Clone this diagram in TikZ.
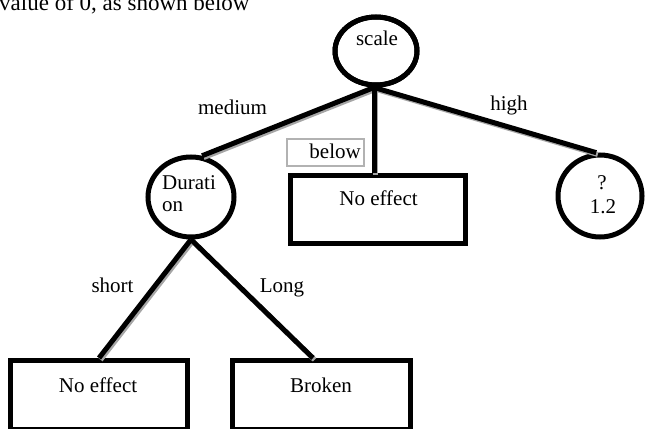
\documentclass[tikz,border=0pt]{standalone}
\usepackage{fontspec}
\setmainfont{Liberation Serif}
\usetikzlibrary{shapes.geometric,calc}

\tikzset{
  txt/.style={font=\fontsize{21}{25}\selectfont, inner sep=0pt, anchor=base},
  oval/.style={ellipse, draw=black, line width=5pt, inner sep=0pt},
  leaf/.style={rectangle, draw=black, line width=5pt, inner sep=0pt},
  edge/.style={line width=5pt, black},
  shade/.style={line width=5pt, gray!70, transform canvas={shift={(1.6pt,-1.8pt)}}},
  tag/.style={rectangle, draw=gray!60, line width=1.2pt, inner sep=0pt}
}

\begin{document}
\begin{tikzpicture}[x=1pt, y=1pt]
  \useasboundingbox (0,0) rectangle (647,428);
  \clip (0,0) rectangle (647,428);

  % running text above the tree
  \node[txt, anchor=base west, font=\fontsize{23}{27}\selectfont] (intro) at (-1,417.5) {value of 0, as shown below};

  % decision nodes
  \node[oval, minimum width=82pt, minimum height=68pt] (scale) at (376,377) {};
  \node[oval, minimum width=86pt, minimum height=80pt] (dur) at (191,231) {};
  \node[oval, minimum width=84pt, minimum height=82pt] (q) at (600,232) {};

  % outcome boxes
  \node[leaf, minimum width=175pt, minimum height=68pt] (mid) at (378,218.5) {};
  \node[leaf, minimum width=177pt, minimum height=69pt] (left) at (99,33) {};
  \node[leaf, minimum width=178pt, minimum height=69pt] (broken) at (321.5,33) {};

  % small caption box beside the middle branch
  \node[tag, minimum width=77pt, minimum height=27pt] (belowbox) at (325.5,275.5) {};

  % connector end points
  \coordinate (sTop) at ($(scale.south)+(-2,0)$);
  \coordinate (bTop) at ($(broken.north)+(-8.5,0)$);

  % shadows under the connectors
  \draw[shade] (sTop) -- (dur.75);
  \draw[shade] (sTop) -- (sTop |- mid.north);
  \draw[shade] (sTop) -- (q.95);
  \draw[shade] (dur.south) -- (left.north);
  \draw[shade] (dur.south) -- (bTop);

  % connectors
  \draw[edge] (sTop) -- (dur.75);
  \draw[edge] (sTop) -- (sTop |- mid.north);
  \draw[edge] (sTop) -- (q.95);
  \draw[edge] (dur.south) -- (left.north);
  \draw[edge] (dur.south) -- (bTop);

  % redraw shapes over the line ends
  \node[oval, minimum width=82pt, minimum height=68pt] at (scale) {};

  % texts
  \node[txt] (tScale) at (377,382) {scale};
  \node[txt, anchor=base west] (tDur1) at (162,238) {Durati};
  \node[txt, anchor=base west] (tDur2) at (162,216) {on};
  \node[txt] (tQ1) at (602,238) {?};
  \node[txt] (tQ2) at (603,214) {1.2};
  \node[txt] (tMid) at (378.5,222) {No effect};
  \node[txt] (tLeft) at (98,36) {No effect};
  \node[txt] (tBroken) at (321,36) {Broken};
  \node[txt, anchor=base east] (tBelow) at (361,269) {below};

  % branch labels
  \node[txt] (lMedium) at (232.5,313) {medium};
  \node[txt] (lHigh) at (509,317) {high};
  \node[txt] (lShort) at (112.5,135.5) {short};
  \node[txt] (lLong) at (282,135.5) {Long};
\end{tikzpicture}
\end{document}
